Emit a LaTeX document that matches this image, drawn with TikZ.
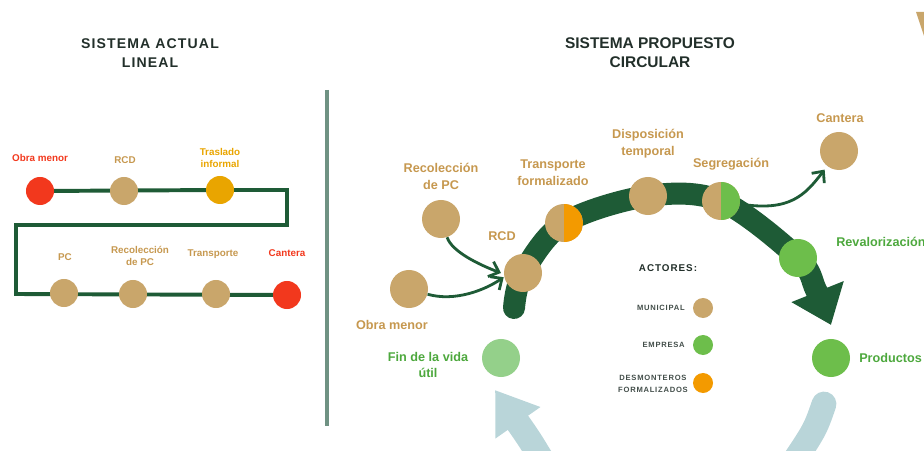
\documentclass[tikz,border=0pt]{standalone}
\usepackage{fontspec}
\setmainfont{Liberation Sans}
\newfontfamily\spacedfont[LetterSpace=8]{Liberation Sans}
\newfontfamily\widefont[LetterSpace=10]{Liberation Sans}
\usetikzlibrary{arrows.meta, positioning, backgrounds}

\definecolor{tanfill}{HTML}{C9A66B}
\definecolor{tantext}{HTML}{C6984F}
\definecolor{redstop}{HTML}{F2381D}
\definecolor{yellowstop}{HTML}{E9A500}
\definecolor{orangestop}{HTML}{F39A00}
\definecolor{greenstop}{HTML}{6DBE4B}
\definecolor{lightgreenstop}{HTML}{94D08A}
\definecolor{darkgreen}{HTML}{1E5B36}
\definecolor{greentext}{HTML}{4DA83D}
\definecolor{lightblue}{HTML}{B9D5D9}
\definecolor{divider}{HTML}{6F9283}
\definecolor{titletext}{HTML}{222F2A}

\begin{document}
\begin{tikzpicture}[
    x=0.025cm, y=-0.025cm,
    stop/.style={circle, fill=tanfill, minimum size=0.7cm, inner sep=0pt},
    bigstop/.style={circle, fill=tanfill, minimum size=0.95cm, inner sep=0pt},
    dot/.style={circle, fill=tanfill, minimum size=0.5cm, inner sep=0pt},
    halfstop/.style={bigstop, path picture={\fill[#1] (path picture bounding box.south) rectangle (path picture bounding box.north east);}},
    tag/.style={font=\fontsize{7}{8.5}\selectfont\bfseries, text=tantext, align=center, inner sep=0pt},
    bigtag/.style={font=\fontsize{9}{12}\selectfont\bfseries, text=tantext, align=center, inner sep=0pt},
    legendtag/.style={font=\widefont\fontsize{5.4}{8}\selectfont\bfseries, text=titletext!85, align=center, inner sep=0pt, anchor=east},
    heading/.style={font=\fontsize{11}{13.5}\selectfont\bfseries, text=titletext, align=center, inner sep=0pt},
    track/.style={draw=darkgreen, line width=2.8pt, line join=miter},
    flow/.style={draw=darkgreen, line width=0.55cm, line cap=round, -{Triangle[width=1.35cm, length=0.9cm]}},
    feed/.style={draw=darkgreen, line width=2pt, -{Straight Barb[length=0.22cm, width=0.4cm]}},
    back/.style={draw=lightblue, line width=0.62cm, line cap=round}
]
\useasboundingbox (0,0) rectangle (924,451);

% Titles
\node[heading, font=\spacedfont\fontsize{10}{13.5}\selectfont\bfseries] (titleL) at (150,53) {SISTEMA ACTUAL\\LINEAL};
\node[heading] (titleR) at (650,53) {SISTEMA PROPUESTO\\CIRCULAR};

% Linear system
\node[stop, fill=redstop] (obraL) at (40,191) {};
\node[stop] (rcdL) at (124,191) {};
\node[stop, fill=yellowstop] (trasladoL) at (220,190) {};
\node[stop] (pcL) at (64,293) {};
\node[stop] (recolL) at (133,294) {};
\node[stop] (transL) at (216,294) {};
\node[stop, fill=redstop] (canteraL) at (287,295) {};
\coordinate (c1) at (287,190);
\coordinate (c2) at (287,225);
\coordinate (c3) at (16,225);
\coordinate (c4) at (16,294);

\node[tag, text=redstop] at (40,158) {Obra menor};
\node[tag] at (125,160) {RCD};
\node[tag, text=yellowstop] at (220,158) {Traslado\\informal};
\node[tag] at (65,257) {PC};
\node[tag] at (140,256) {Recolección\\de PC};
\node[tag] at (213,254) {Transporte};
\node[tag, text=redstop] at (287,253) {Cantera};

% Divider
\draw[divider, line width=2.2pt] (327,90) -- (327,426);

% Circular system
\node[bigstop] (recolR) at (441,219) {};
\node[bigstop] (obraR) at (409,289) {};
\node[bigstop] (rcdR) at (523,273) {};
\node[halfstop=orangestop] (tfR) at (564,223) {};
\node[bigstop] (dispR) at (648,196) {};
\node[halfstop=greenstop] (segR) at (721,201) {};
\node[bigstop] (canteraR) at (839,151) {};
\node[bigstop, fill=greenstop] (revR) at (798,258) {};
\node[bigstop, fill=greenstop] (prodR) at (831,358) {};
\node[bigstop, fill=lightgreenstop] (finR) at (501,358) {};
\coordinate (arcstart) at (514,308);
\coordinate (arcbend) at (816,290);
\coordinate (arcend) at (831,325);

\node[bigtag] at (441,176) {Recolección\\de PC};
\node[bigtag] at (392,325) {Obra menor};
\node[bigtag] at (502,236) {RCD};
\node[bigtag] at (553,173) {Transporte\\formalizado};
\node[bigtag] at (648,144) {Disposición\\temporal};
\node[bigtag] at (731,164) {Segregación};
\node[bigtag] at (840,118) {Cantera};
\node[bigtag, text=greentext, anchor=west] at (836,242) {Revalorización};
\node[bigtag, text=greentext, anchor=west] at (859,358) {Productos};
\node[bigtag, text=greentext] at (428,365) {Fin de la vida\\útil};

% Legend
\node[heading, font=\widefont\fontsize{7}{8}\selectfont\bfseries] (actores) at (668,268) {ACTORES:};
\node[dot] (municipal) at (703,308) {};
\node[dot, fill=greenstop] (empresa) at (703,345) {};
\node[dot, fill=orangestop] (desmonteros) at (703,383) {};
\node[legendtag] at (685,308) {MUNICIPAL};
\node[legendtag] at (685,345) {EMPRESA};
\node[legendtag] at (688,384) {DESMONTEROS\\FORMALIZADOS};

% Return arcs (cut by the page edge)
\coordinate (backL1) at (548,470);
\coordinate (backL2) at (495,390);
\coordinate (backR1) at (824,404);
\coordinate (backR2) at (788,470);
\draw[back, -{Triangle[width=1.3cm, length=1cm]}] (backL1) .. controls (530,440) .. (backL2);
\draw[back] (backR1) .. controls (815,430) .. (backR2);

% Corner mark
\fill[tanfill] (916,12) -- (924,12) -- (924,36) -- cycle;

% Connectors
\begin{scope}[on background layer]
\draw[track] (obraL.center) -- (trasladoL.center) -- (c1) -- (c2) -- (c3) -- (c4) -- (canteraL.center);
\draw[flow] plot[smooth, tension=0.55] coordinates {(arcstart) (rcdR.center) (tfR.center) (dispR.center) (segR.center) (revR.center) (arcbend) (arcend)};
\end{scope}
\draw[feed] (recolR) .. controls (452,252) and (480,265) .. ([xshift=-2pt]rcdR.west);
\draw[feed] (obraR) .. controls (455,302) and (485,290) .. ([yshift=-3pt]rcdR.west);
\draw[feed, shorten >=3pt] (segR) .. controls (790,212) and (805,195) .. (canteraR);

\end{tikzpicture}
\end{document}
